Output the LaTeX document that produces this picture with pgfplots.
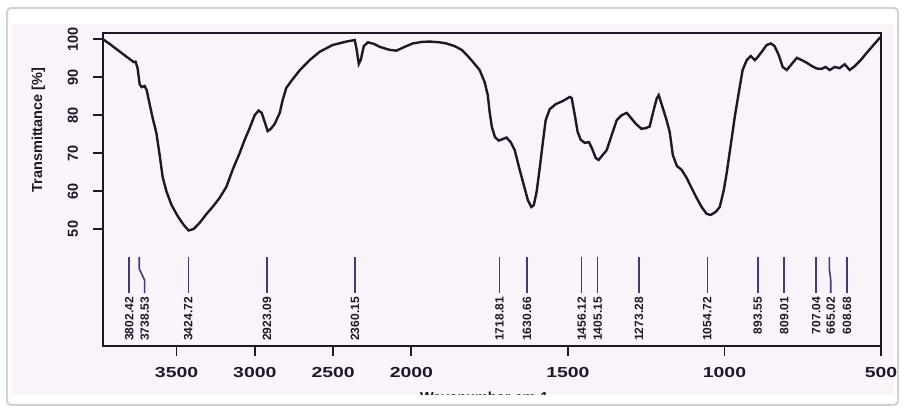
\documentclass[border=0pt]{standalone}
\usepackage{fontspec}
\setmainfont{Liberation Sans}
\usepackage{graphicx}
\usepackage{pgfplots}
\pgfplotsset{compat=1.18}
\definecolor{bgpink}{RGB}{250,244,250}
\definecolor{ink}{RGB}{28,24,40}
\definecolor{pkink}{RGB}{62,60,122}
\newcommand{\xl}[1]{\scalebox{1.34}[1]{#1}}
\newcommand{\pk}[2]{%
  \draw[pkink, line width=0.8pt] (axis cs:#1,42.6) -- (axis cs:#1,39.5) -- (axis cs:#2,36.5) -- (axis cs:#2,33.1);
  \node[peaklabel] at (axis cs:#2,32.1) {#1};}
\tikzset{peaklabel/.style={font=\fontsize{6}{7}\selectfont\bfseries, text=ink, rotate=90, anchor=east, inner sep=0pt}}
\begin{document}
\begin{tikzpicture}
\useasboundingbox (0pt,0pt) rectangle (452.5pt,205pt);
\fill[white] (0pt,0pt) rectangle (452.5pt,205pt);
\fill[bgpink] (5.5pt,7.5pt) rectangle (447pt,193pt);
\begin{axis}[
  at={(51.5pt,32pt)}, anchor=south west, scale only axis,
  width=389pt, height=156.5pt,
  x coord trafo/.code={\pgfmathparse{#1>=2000 ? 4000-#1 : 6000-2*#1}},
  x coord inv trafo/.code={\pgfmathparse{#1<=2000 ? 4000-#1 : (6000-#1)/2}},
  xmin=3970, xmax=500, ymin=19.16, ymax=101.66,
  xtick={3500,3000,2500,2000,1500,1000,500},
  xticklabels={\xl{3500},\xl{3000},\xl{2500},\xl{2000},\xl{1500},\xl{1000},\xl{500}},
  ytick={50,60,70,80,90,100},
  yticklabels={50,60,70,80,90,100},
  xtick pos=bottom, ytick pos=left,
  tick align=outside, major tick length=5pt,
  axis line style={ink, line width=1pt},
  tick style={ink, line width=0.9pt},
  tick label style={font=\fontsize{7.25}{8}\selectfont\bfseries, text=ink},
  yticklabel style={rotate=90, anchor=south},
  xticklabel shift=2pt, yticklabel shift=4pt,
  ylabel={Transmittance [\%]},
  ylabel style={at={(axis description cs:-0.083,0.69)}, anchor=center, font=\fontsize{7.25}{8}\selectfont\bfseries, text=ink},
  xlabel={Wavenumber cm-1},
  xlabel style={at={(axis description cs:0.49,-0.147)}, anchor=north, inner sep=0pt, font=\fontsize{7.25}{8}\selectfont\bfseries, text=ink},
  clip=false,
]
\addplot[ink, line width=1.2pt] coordinates {
(3970,100.0) (3928,98.8) (3877,97.2) (3826,95.6) (3800,94.8) (3774,94.0) (3762,94.1)
(3749,92.4) (3736,88.2) (3723,87.4) (3704,87.7) (3691,86.6) (3672,82.9) (3653,79.3)
(3629,75.3) (3608,69.5) (3589,63.7) (3564,59.8) (3532,56.3) (3493,53.4) (3455,51.1)
(3423,49.6) (3391,50.0) (3353,51.6) (3308,54.0) (3270,55.8) (3225,58.2) (3182,61.1)
(3142,65.6) (3097,70.0) (3065,73.5) (3033,76.6) (3001,80.0) (2976,81.2) (2956,80.6)
(2937,78.2) (2918,75.8) (2898,76.4) (2873,77.7) (2841,80.6) (2822,84.0) (2799,87.2)
(2758,89.5) (2714,91.8) (2650,94.5) (2586,96.7) (2503,98.5) (2415,99.4) (2362,99.8)
(2349,97.2) (2336,93.5) (2323,94.6) (2304,98.2) (2278,99.2) (2240,98.8) (2202,98.0)
(2138,97.2) (2096,97.0) (2043,98.0) (1996,98.9) (1967,99.3) (1941,99.4) (1910,99.2)
(1888,98.9) (1862,98.2) (1839,97.2) (1820,95.6) (1801,93.8) (1782,91.9) (1766,88.7)
(1756,85.3) (1750,80.8) (1743,76.9) (1733,74.2) (1721,73.3) (1708,73.7) (1696,74.1)
(1683,72.9) (1670,70.8) (1654,65.6) (1641,61.6) (1628,57.6) (1617,55.8) (1609,56.3)
(1600,59.8) (1590,66.1) (1580,72.9) (1571,78.7) (1558,81.6) (1539,82.9) (1517,83.7)
(1494,84.8) (1488,84.5) (1478,80.0) (1469,75.6) (1459,73.5) (1446,72.7) (1433,72.9)
(1424,71.4) (1411,68.7) (1402,68.2) (1389,69.5) (1376,70.8) (1360,74.8) (1344,78.7)
(1328,80.0) (1312,80.6) (1299,79.3) (1283,77.7) (1265,76.4) (1251,76.6) (1239,77.0)
(1226,81.4) (1216,84.5) (1210,85.3) (1200,82.7) (1185,78.7) (1175,75.6) (1165,69.5)
(1152,66.6) (1137,65.6) (1121,63.5) (1105,60.8) (1089,58.2) (1073,55.8) (1057,54.0)
(1044,53.7) (1028,54.5) (1015,55.8) (1002,60.3) (993,64.7) (980,72.1) (967,79.6)
(954,86.1) (942,91.9) (929,94.5) (916,95.6) (903,94.5) (894,95.3) (881,96.7)
(865,98.5) (852,98.9) (840,98.2) (827,95.9) (814,92.7) (801,91.9) (785,93.5)
(769,95.1) (753,94.5) (737,93.8) (722,93.0) (706,92.3) (690,92.2) (677,92.7)
(664,91.9) (648,92.7) (632,92.4) (616,93.4) (600,91.9) (584,92.9) (565,94.5)
(546,96.4) (527,98.2) (508,100.0) (501,100.6)
};
\pk{3802.42}{3802.42}
\pk{3738.53}{3704}
\pk{3424.72}{3424.72}
\pk{2923.09}{2923.09}
\pk{2360.15}{2360.15}
\pk{1718.81}{1718.81}
\pk{1630.66}{1630.66}
\pk{1456.12}{1456.12}
\pk{1405.15}{1405.15}
\pk{1273.28}{1273.28}
\pk{1054.72}{1054.72}
\pk{893.55}{893.55}
\pk{809.01}{809.01}
\pk{707.04}{707.04}
\pk{665.02}{660.5}
\pk{608.68}{608.68}
\end{axis}
\fill[white] (0pt,0pt) rectangle (452.5pt,7.25pt);
\draw[gray!35, line width=1pt, rounded corners=2pt] (3.5pt,2.5pt) rectangle (449pt,201pt);
\end{tikzpicture}
\end{document}
